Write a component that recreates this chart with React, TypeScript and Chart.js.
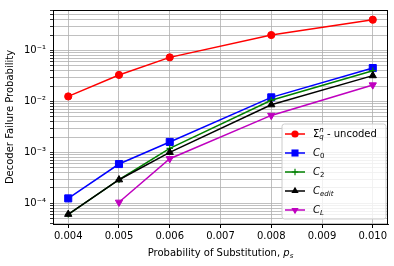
import React, { useEffect, useRef } from "react";
import { Chart, registerables } from "chart.js";

Chart.register(...registerables);

const xValues = [0.004, 0.005, 0.006, 0.008, 0.01];
const uncoded = [0.0125, 0.033, 0.073, 0.2, 0.4];
const c0 = [1.25e-4, 5.9e-4, 1.6e-3, 0.012, 0.045];
const c2 = [6.1e-5, 2.9e-4, 1.2e-3, 0.0105, 0.04];
const cEdit = [6.1e-5, 2.9e-4, 1.0e-3, 8.6e-3, 0.032];
const cL = [null, 1.05e-4, 7.5e-4, 5.3e-3, 0.021];
const xTicks = [0.004, 0.005, 0.006, 0.007, 0.008, 0.009, 0.01];

const FONT = '"DejaVu Sans"';
const FS = 10;

type Part = { t?: string; it?: boolean; sub?: string; sup?: string };

const legendLabels: Part[][] = [
  [{ t: "Σ" }, { sub: "q", sup: "n", it: true }, { t: " - uncoded" }],
  [{ t: "C", it: true }, { sub: "0" }],
  [{ t: "C", it: true }, { sub: "2" }],
  [{ t: "C", it: true }, { sub: "edit", it: true }],
  [{ t: "C", it: true }, { sub: "L", it: true }],
];

const series = [
  { data: uncoded, color: "#ff0000", style: "circle", radius: 3.6, rot: 0 },
  { data: c0, color: "#0000ff", style: "rect", radius: 5, rot: 0 },
  { data: c2, color: "#008000", style: "cross", radius: 3.2, rot: 0 },
  { data: cEdit, color: "#000000", style: "triangle", radius: 4.2, rot: 0 },
  { data: cL, color: "#bf00bf", style: "triangle", radius: 4.2, rot: 180 },
];

function drawRich(ctx: CanvasRenderingContext2D, parts: Part[], x: number, y: number, fs: number, measureOnly = false): number {
  let cx = x;
  for (const p of parts) {
    if (p.t !== undefined) {
      ctx.font = `${p.it ? "italic " : ""}${fs}px ${FONT}`;
      if (!measureOnly) ctx.fillText(p.t, cx, y);
      cx += ctx.measureText(p.t).width;
    } else {
      const s = fs * 0.7;
      ctx.font = `${p.it ? "italic " : ""}${s}px ${FONT}`;
      let w = 0;
      if (p.sub) {
        if (!measureOnly) ctx.fillText(p.sub, cx, y + fs * 0.3);
        w = Math.max(w, ctx.measureText(p.sub).width);
      }
      if (p.sup) {
        if (!measureOnly) ctx.fillText(p.sup, cx, y - fs * 0.4);
        w = Math.max(w, ctx.measureText(p.sup).width);
      }
      cx += w;
    }
  }
  return cx - x;
}

function drawMarker(ctx: CanvasRenderingContext2D, style: string, r: number, rot: number, x: number, y: number, color: string) {
  ctx.save();
  ctx.fillStyle = color;
  ctx.strokeStyle = color;
  ctx.lineWidth = 1;
  ctx.beginPath();
  if (style === "circle") {
    ctx.arc(x, y, r, 0, Math.PI * 2);
    ctx.fill();
  } else if (style === "rect") {
    const s = r * Math.SQRT1_2;
    ctx.rect(x - s, y - s, 2 * s, 2 * s);
    ctx.fill();
  } else if (style === "cross") {
    ctx.moveTo(x - r, y);
    ctx.lineTo(x + r, y);
    ctx.moveTo(x, y - r);
    ctx.lineTo(x, y + r);
    ctx.lineWidth = 1.2;
    ctx.stroke();
  } else {
    let a = (rot * Math.PI) / 180;
    ctx.moveTo(x + Math.sin(a) * r, y - Math.cos(a) * r);
    for (let i = 0; i < 2; i++) {
      a += (2 * Math.PI) / 3;
      ctx.lineTo(x + Math.sin(a) * r, y - Math.cos(a) * r);
    }
    ctx.closePath();
    ctx.fill();
  }
  ctx.restore();
}

const supMap: Record<string, string> = { "-": "⁻", "0": "⁰", "1": "¹", "2": "²", "3": "³", "4": "⁴", "5": "⁵", "6": "⁶", "7": "⁷", "8": "⁸", "9": "⁹" };

const overlay = {
  id: "overlay",
  afterDraw(chart: any) {
    const ctx: CanvasRenderingContext2D = chart.ctx;
    const { left, top, right, bottom } = chart.chartArea;
    ctx.save();
    ctx.strokeStyle = "#000";
    ctx.lineWidth = 1;
    ctx.strokeRect(Math.round(left) + 0.5, Math.round(top) + 0.5, Math.round(right - left) - 1, Math.round(bottom - top));
    ctx.fillStyle = "#000";
    ctx.textBaseline = "middle";
    // x title
    const xt: Part[] = [{ t: "Probability of Substitution, " }, { t: "p", it: true }, { sub: "s", it: true }];
    const w = drawRich(ctx, xt, 0, 0, FS, true);
    drawRich(ctx, xt, (left + right) / 2 - w / 2, 253, FS);
    // y title
    ctx.save();
    ctx.translate(10, (top + bottom) / 2);
    ctx.rotate(-Math.PI / 2);
    ctx.font = `${FS}px ${FONT}`;
    ctx.textAlign = "center";
    ctx.fillText("Decoder Failure Probability", 0, 0);
    ctx.restore();
    // legend
    const bx = 282, by = 124, bw = 104, bh = 95;
    ctx.beginPath();
    const rr = 2.5;
    ctx.moveTo(bx + rr, by);
    ctx.arcTo(bx + bw, by, bx + bw, by + bh, rr);
    ctx.arcTo(bx + bw, by + bh, bx, by + bh, rr);
    ctx.arcTo(bx, by + bh, bx, by, rr);
    ctx.arcTo(bx, by, bx + bw, by, rr);
    ctx.closePath();
    ctx.fillStyle = "rgba(255,255,255,0.8)";
    ctx.fill();
    ctx.strokeStyle = "#cccccc";
    ctx.lineWidth = 1;
    ctx.stroke();
    series.forEach((s, i) => {
      const y = 134 + i * 19;
      ctx.strokeStyle = s.color;
      ctx.lineWidth = 1.5;
      ctx.beginPath();
      ctx.moveTo(285, y);
      ctx.lineTo(305, y);
      ctx.stroke();
      drawMarker(ctx, s.style, s.radius, s.rot, 295, y, s.color);
      ctx.fillStyle = "#000";
      drawRich(ctx, legendLabels[i], 313, y, FS);
    });
    ctx.restore();
  },
};

export default function App() {
  const ref = useRef<HTMLCanvasElement>(null);
  useEffect(() => {
    const chart = new Chart(ref.current!, {
      type: "line",
      data: {
        datasets: series.map((s, i) => ({
          data: xValues.map((x, j) => ({ x, y: s.data[j] as any })),
          borderColor: s.color,
          backgroundColor: s.color,
          borderWidth: 1.5,
          pointStyle: s.style as any,
          pointRadius: s.radius,
          pointRotation: s.rot,
          pointBorderWidth: s.style === "cross" ? 1.2 : 1,
          pointBorderColor: s.color,
          pointBackgroundColor: s.color,
          spanGaps: false,
          tension: 0,
          order: 5 - i,
        })),
      },
      options: {
        responsive: false,
        animation: false,
        layout: { padding: { top: 6, right: 6, left: 0, bottom: 0 } },
        plugins: { legend: { display: false }, tooltip: { enabled: false } },
        scales: {
          x: {
            type: "linear",
            min: 0.0037,
            max: 0.0103,
            afterBuildTicks: (scale: any) => {
              scale.ticks = xTicks.map((v) => ({ value: v }));
            },
            afterFit: (scale: any) => {
              scale.height = 42;
            },
            ticks: {
              autoSkip: false,
              maxRotation: 0,
              color: "#000",
              padding: 2,
              font: { family: "DejaVu Sans", size: FS },
              callback: (v: any) => Number(v).toFixed(3),
            },
            grid: { color: "#b0b0b0", lineWidth: 0.8, tickColor: "#000", tickLength: 4, tickWidth: 1 },
            border: { color: "#000", width: 1 },
          },
          y: {
            type: "logarithmic",
            min: 3.93e-5,
            max: 0.62,
            afterBuildTicks: (scale: any) => {
              const t: any[] = [];
              for (let e = -5; e <= 0; e++) {
                for (let m = 1; m <= 9; m++) {
                  const v = m * Math.pow(10, e);
                  if (v >= scale.min && v <= scale.max) t.push({ value: v, major: m === 1 });
                }
              }
              scale.ticks = t;
            },
            afterFit: (scale: any) => {
              scale.width = 53;
            },
            ticks: {
              autoSkip: false,
              color: "#000",
              padding: 4,
              font: { family: "DejaVu Sans", size: FS },
              callback: (v: any) => {
                const l = Math.log10(Number(v));
                if (Math.abs(l - Math.round(l)) > 1e-6) return "";
                const e = String(Math.round(l));
                return "10" + e.split("").map((c) => supMap[c]).join("");
              },
            },
            grid: {
              color: "#b0b0b0",
              lineWidth: 0.8,
              tickColor: "#000",
              tickLength: 3,
              tickWidth: 0.8,
            },
            border: { color: "#000", width: 1 },
          },
        },
      },
      plugins: [overlay],
    });
    return () => chart.destroy();
  }, []);
  return (
    <div style={{ position: "fixed", left: 0, top: 0, width: 394, height: 266, background: "#fff" }}>
      <canvas ref={ref} width={394} height={266} style={{ width: 394, height: 266, display: "block" }} />
    </div>
  );
}
